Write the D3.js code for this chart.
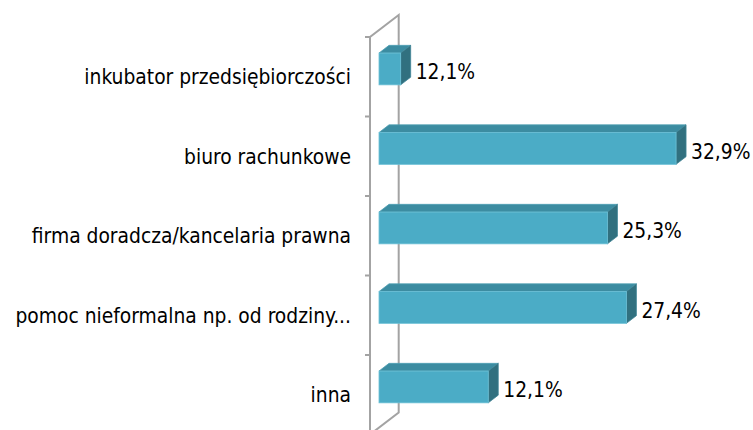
<!DOCTYPE html>
<html>
<head>
  <meta charset="utf-8">
  <script src="https://d3js.org/d3.v7.min.js"></script>
  <style>
    body { margin: 0; background: #fff; }
    text { font-family: "DejaVu Sans Condensed", "DejaVu Sans", Verdana, sans-serif; fill: #000; }
  </style>
</head>
<body>
  <script>
    // data
    var categories = [
      "inkubator przedsiębiorczości",
      "biuro rachunkowe",
      "firma doradcza/kancelaria prawna",
      "pomoc nieformalna np. od rodziny...",
      "inna"
    ];
    var values = [2.4, 32.9, 25.3, 27.4, 12.1];
    var valueLabels = ["12,1%", "32,9%", "25,3%", "27,4%", "12,1%"];

    var width = 753, height = 430;

    var svg = d3.select("body").append("svg")
      .attr("width", width)
      .attr("height", height);

    // front plane of the 3d box
    var x0 = 370;
    var wallDx = 28.7, wallDy = -22;     // depth of the wall
    var frontDx = 9, frontDy = -7.8;     // bar front face offset
    var barDx = 10, barDy = -7.7;        // bar depth

    var y = d3.scaleBand()
      .domain(categories)
      .range([37, 434.5])
      .paddingInner(0.6)
      .paddingOuter(0.3);

    var x = d3.scaleLinear()
      .domain([0, 35])
      .range([0, 316]);

    var r0 = y.range()[0], r1 = y.range()[1];

    // wall
    var wall = svg.append("g").attr("class", "wall")
      .attr("fill", "none")
      .attr("stroke", "#a3a3a3")
      .attr("stroke-width", 2);

    wall.append("path")
      .attr("d", d3.line()([
        [x0, r1], [x0, r0], [x0 + wallDx, r0 + wallDy], [x0 + wallDx, r1 + wallDy], [x0, r1]
      ]));

    // ticks at band edges
    wall.selectAll("line.tick")
      .data(d3.range(categories.length + 1))
      .enter().append("line")
      .attr("class", "tick")
      .attr("x1", x0 - 5)
      .attr("x2", x0)
      .attr("y1", function (i) { return r0 + i * y.step(); })
      .attr("y2", function (i) { return r0 + i * y.step(); });

    // bars
    var bars = svg.append("g").attr("class", "bars")
      .selectAll("g")
      .data(values)
      .enter().append("g");

    function geom(d, i) {
      var xl = x0 + frontDx,
        xr = xl + x(d),
        yt = y(categories[i]) + frontDy,
        yb = yt + y.bandwidth();
      return { xl: xl, xr: xr, yt: yt, yb: yb };
    }

    bars.append("path")
      .attr("fill", "#3c8ca1")
      .attr("stroke", "#4f9fb4")
      .attr("stroke-width", 0.8)
      .attr("d", function (d, i) {
        var g = geom(d, i);
        return d3.line()([[g.xl, g.yt], [g.xr, g.yt], [g.xr + barDx, g.yt + barDy], [g.xl + barDx, g.yt + barDy]]) + "Z";
      });

    bars.append("path")
      .attr("fill", "#31707f")
      .attr("stroke", "#3f8496")
      .attr("stroke-width", 0.8)
      .attr("d", function (d, i) {
        var g = geom(d, i);
        return d3.line()([[g.xr, g.yt], [g.xr + barDx, g.yt + barDy], [g.xr + barDx, g.yb + barDy], [g.xr, g.yb]]) + "Z";
      });

    bars.append("rect")
      .attr("fill", "#4bacc6")
      .attr("stroke", "#6cc0d6")
      .attr("stroke-width", 0.8)
      .attr("x", function (d, i) { return geom(d, i).xl; })
      .attr("y", function (d, i) { return geom(d, i).yt; })
      .attr("width", function (d) { return x(d); })
      .attr("height", y.bandwidth());

    // value labels
    bars.append("text")
      .attr("x", function (d, i) { return geom(d, i).xr + barDx + 5; })
      .attr("y", function (d, i) { return geom(d, i).yt + y.bandwidth() / 2 + 10.5; })
      .style("font-size", "20.8px")
      .text(function (d, i) { return valueLabels[i]; });

    // category labels
    svg.append("g").attr("class", "labels")
      .selectAll("text")
      .data(categories)
      .enter().append("text")
      .attr("x", 351)
      .attr("y", function (d) { return y(d) + y.bandwidth() / 2 + 7.5; })
      .attr("text-anchor", "end")
      .style("font-size", "20.8px")
      .text(function (d) { return d; });
  </script>
</body>
</html>
